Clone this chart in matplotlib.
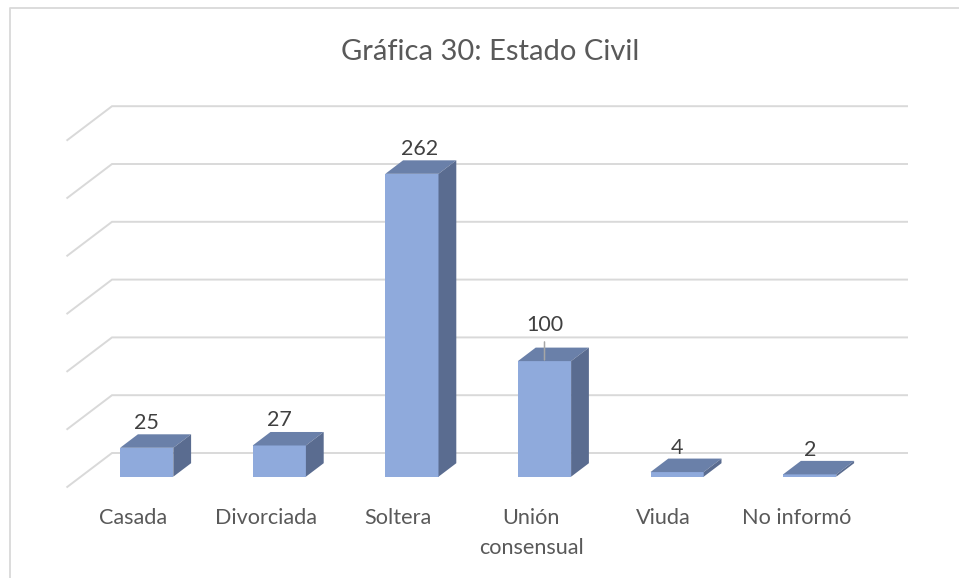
import matplotlib
matplotlib.use("Agg")
import matplotlib.pyplot as plt
from matplotlib.patches import Polygon
from matplotlib.lines import Line2D

categories = ["Casada", "Divorciada", "Soltera", "Unión\nconsensual", "Viuda", "No informó"]
values = [25, 27, 262, 100, 4, 2]
grid_values = [0, 50, 100, 150, 200, 250, 300]
title = "Gráfica 30: Estado Civil"

W, H = 959, 578
X0_PX, STEP_PX = 146.7, 132.6     # first category centre, category spacing
Y0_PX, UNIT_PX = 476.7, 1.156     # baseline, px per unit
BAR_W = 53.2 / STEP_PX
DX, DY = 17.8 / STEP_PX, 13.5 / UNIT_PX    # depth of bars
WALL_DY = 23.7 / UNIT_PX          # back wall above bar baseline
FLOOR_DX, FLOOR_DY = 45.5 / STEP_PX, 34.5 / UNIT_PX
WALL_LEFT = (112 - X0_PX) / STEP_PX
WALL_RIGHT = (908 - X0_PX) / STEP_PX

FONT = ["Lato", "DejaVu Sans"]
plt.rcParams["font.family"] = FONT
FRONT, TOP, SIDE = "#8FAADC", "#6A80A9", "#5A6C90"
GRID = "#D9D9D9"

fig = plt.figure(figsize=(W / 100, H / 100), dpi=100)
ax = fig.add_axes([0, 0, 1, 1])
ax.set_xlim(-X0_PX / STEP_PX, (W - X0_PX) / STEP_PX)
ax.set_ylim(-(H - Y0_PX) / UNIT_PX, Y0_PX / UNIT_PX)
ax.axis("off")

# chart border (open at the bottom and right of the image)
fig.add_artist(Line2D([9.5 / W, 9.5 / W, 1],
                      [0, 1 - 7.5 / H, 1 - 7.5 / H],
                      color=GRID, lw=1.3, transform=fig.transFigure))

# back wall grid and floor diagonals
for g in grid_values:
    y = g + WALL_DY
    ax.plot([WALL_LEFT - FLOOR_DX, WALL_LEFT, WALL_RIGHT],
            [y - FLOOR_DY, y, y], color=GRID, lw=1.4, zorder=1,
            solid_joinstyle="miter", solid_capstyle="butt")

xs = list(range(len(values)))
bars = ax.bar(xs, values, width=BAR_W, color=FRONT, zorder=3, linewidth=0)
for bar, v in zip(bars, values):
    x0, x1 = bar.get_x(), bar.get_x() + bar.get_width()
    ax.add_patch(Polygon([(x0, v), (x1, v), (x1 + DX, v + DY), (x0 + DX, v + DY)],
                         closed=True, fc=TOP, ec="none", zorder=4))
    ax.add_patch(Polygon([(x1, 0), (x1 + DX, DY), (x1 + DX, v + DY), (x1, v)],
                         closed=True, fc=SIDE, ec="none", zorder=4))

# data labels
label_dx = [0, 0, 8, 0, 0, 0]
label_dy = [24.5, 25.5, 24.5, 36.5, 24.5, 24.5]
for x, v, ox, oy in zip(xs, values, label_dx, label_dy):
    ax.annotate(str(v), (x, v), xytext=(ox * 0.72, oy * 0.72), textcoords="offset points",
                ha="center", va="center", fontsize=15.5, color="#404040", zorder=6)
# leader line on the "Unión consensual" label
ax.annotate("", (3, values[3] + 1), xytext=(0, 13), textcoords="offset points",
            arrowprops=dict(arrowstyle="-", color="#A6A6A6", lw=1.1, shrinkA=0, shrinkB=0),
            zorder=5)

# category labels
for x, c in zip(xs, categories):
    ax.annotate(c, (x, 0), xytext=(-13.5 * 0.72, -31.5 * 0.72), textcoords="offset points",
                ha="center", va="top", fontsize=15.6, color="#595959",
                linespacing=1.6, zorder=6)

fig.text(490 / W, 1 - 52.5 / H, title, ha="center", va="center", fontsize=21, color="#595959")
fig.savefig("out.png", dpi=100)
